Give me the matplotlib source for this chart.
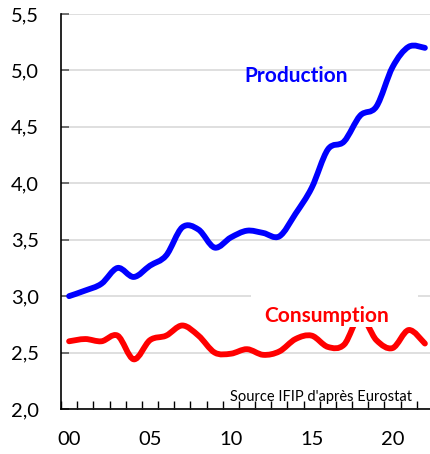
"""Pig meat production vs consumption chart (smoothed lines, Excel look)."""

import matplotlib

matplotlib.use("Agg")

import matplotlib.pyplot as plt
import numpy as np
from matplotlib.patches import PathPatch, Rectangle
from matplotlib.path import Path

YEARS = list(range(2000, 2023))
PRODUCTION = [3.00, 3.05, 3.11, 3.25, 3.17, 3.27, 3.36, 3.61, 3.59, 3.43, 3.52, 3.58,
              3.56, 3.53, 3.73, 3.96, 4.30, 4.37, 4.60, 4.68, 5.03, 5.21, 5.20]
CONSUMPTION = [2.60, 2.62, 2.60, 2.65, 2.44, 2.61, 2.65, 2.74, 2.65, 2.50, 2.49, 2.53,
               2.48, 2.51, 2.62, 2.65, 2.55, 2.57, 2.82, 2.61, 2.54, 2.70, 2.58]
Y_TICKS = [2.0, 2.5, 3.0, 3.5, 4.0, 4.5, 5.0, 5.5]
X_LABEL_YEARS = [2000, 2005, 2010, 2015, 2020]

BLUE = "#0000FF"
RED = "#FF0000"
GRID = "#D9D9D9"
FONT = "Lato"


def smooth_path(x, y):
    """Catmull-Rom style Bezier path through the points (like Excel smoothing)."""
    pts = np.column_stack([x, y]).astype(float)
    padded = np.vstack([pts[0], pts, pts[-1]])
    verts = [pts[0]]
    codes = [Path.MOVETO]
    for i in range(len(pts) - 1):
        p0, p1, p2, p3 = padded[i], padded[i + 1], padded[i + 2], padded[i + 3]
        verts += [p1 + (p2 - p0) / 6, p2 - (p3 - p1) / 6, p2]
        codes += [Path.CURVE4] * 3
    return Path(verts, codes)


fig = plt.figure(figsize=(4.30, 4.54), dpi=100)
ax = fig.add_axes([61 / 430, 45 / 454, 372 / 430, 395 / 454])

idx = np.arange(len(YEARS))
for values, color in [(PRODUCTION, BLUE), (CONSUMPTION, RED)]:
    patch = PathPatch(smooth_path(idx, values), fill=False, edgecolor=color,
                      linewidth=4.2, capstyle="round", joinstyle="round", zorder=3)
    ax.add_patch(patch)

ax.set_xlim(-0.5, len(YEARS) - 0.5)
ax.set_ylim(Y_TICKS[0], Y_TICKS[-1])

# y axis
ax.set_yticks(Y_TICKS, [f"{v:.1f}".replace(".", ",") for v in Y_TICKS])
ax.tick_params(axis="y", direction="in", length=6, width=1.2, color="#595959",
               pad=16, labelsize=14.5)
ax.grid(axis="y", color=GRID, linewidth=1.2)
ax.set_axisbelow(True)

# x axis: tick marks between categories, labels at category centers
boundaries = np.arange(-0.5, len(YEARS) - 1, 1.0)
ax.set_xticks(boundaries, [""] * len(boundaries))
ax.tick_params(axis="x", which="major", direction="in", length=6, width=1.0,
               color="black")
label_pos = [YEARS.index(y) for y in X_LABEL_YEARS]
ax.set_xticks(label_pos, [f"{y % 100:02d}" for y in X_LABEL_YEARS], minor=True)
ax.tick_params(axis="x", which="minor", length=0, pad=16, labelsize=14.5)

for lab in ax.get_xticklabels(minor=True) + ax.get_yticklabels():
    lab.set_fontfamily(FONT)

ax.spines["top"].set_visible(False)
ax.spines["right"].set_visible(False)
ax.spines["left"].set_linewidth(1.2)
ax.spines["bottom"].set_linewidth(1.2)

# white box behind the consumption label
ax.add_patch(Rectangle((0.511, 0.208), 0.449, 0.105, transform=ax.transAxes,
                       facecolor="white", edgecolor="none", zorder=4))

ax.text(0.632, 0.828, "Production", transform=ax.transAxes, ha="center",
        va="baseline", color=BLUE, fontsize=15, fontweight="bold",
        fontfamily=FONT, zorder=5)
ax.text(0.715, 0.221, "Consumption", transform=ax.transAxes, ha="center",
        va="baseline", color=RED, fontsize=15, fontweight="bold",
        fontfamily=FONT, zorder=5)
ax.text(0.699, 0.030, "Source IFIP d'après Eurostat", transform=ax.transAxes,
        ha="center", va="center", color="black", fontsize=10.5, fontfamily=FONT,
        zorder=5)

fig.savefig("out.png", dpi=100)
